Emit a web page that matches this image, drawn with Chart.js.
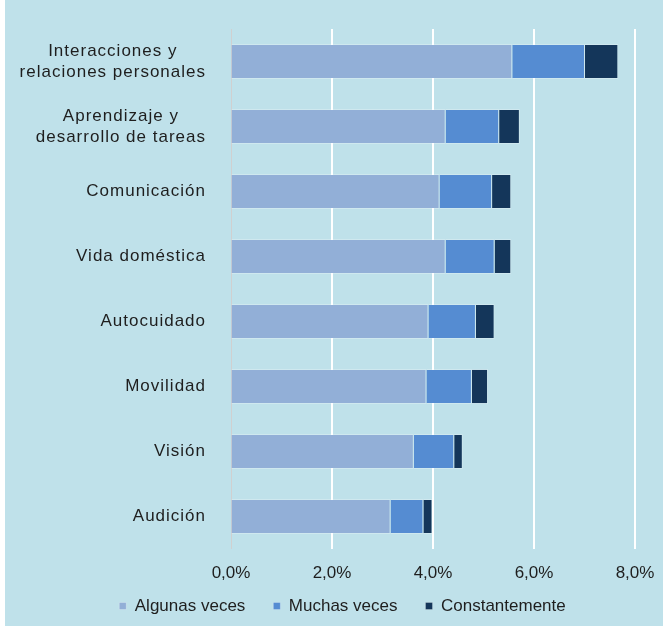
<!DOCTYPE html>
<html>
<head>
<meta charset="utf-8">
<script src="https://cdn.jsdelivr.net/npm/chart.js@4"></script>
<style>
  html, body { margin: 0; padding: 0; background: #ffffff; }
  #wrap { position: absolute; left: 5px; top: 0; width: 658px; height: 626px; background: #BFE1EA; }
</style>
</head>
<body>
<div id="wrap"><canvas id="c" width="658" height="626"></canvas></div>
<script>
const categories = [
  ['Interacciones y', 'relaciones personales'],
  ['Aprendizaje y', 'desarrollo de tareas'],
  'Comunicación',
  'Vida doméstica',
  'Autocuidado',
  'Movilidad',
  'Visión',
  'Audición'
];
const algunasVeces   = [5.57, 4.25, 4.13, 4.25, 3.91, 3.87, 3.62, 3.16];
const muchasVeces    = [1.44, 1.06, 1.04, 0.97, 0.94, 0.90, 0.80, 0.65];
const constantemente = [0.66, 0.41, 0.38, 0.33, 0.37, 0.32, 0.17, 0.18];
const seriesNames = ['Algunas veces', 'Muchas veces', 'Constantemente'];
const xTicks = [0, 2, 4, 6, 8];

const FONT = '"Liberation Sans", Arial, sans-serif';
const TEXT = '#1e1e1e';

const tweakPlugin = {
  id: 'tweaks',
  beforeLayout(chart) {
    const lg = chart.legend;
    if (lg && !lg._fitWrapped) {
      const f = lg.fit;
      lg.fit = function () { f.call(this); this.height = 43; };
      const d = lg.draw;
      lg.draw = function () {
        const b = this.bottom;
        this.bottom = this.chart.height;
        d.call(this);
        this.bottom = b;
      };
      lg._fitWrapped = true;
    }
  },
  afterLayout(chart) {
    const lg = chart.legend;
    if (lg) { lg.left += 20; lg.right += 20; lg.top -= 13.5; lg.bottom -= 13.5; }
  },
  beforeDraw(chart) {
    const s = chart.scales.y;
    if (!s._lsWrapped) {
      const orig = s.drawLabels;
      s.drawLabels = function (area) {
        const ctx = this.ctx;
        ctx.save();
        ctx.letterSpacing = '1px';
        orig.call(this, area);
        ctx.restore();
      };
      s._lsWrapped = true;
    }
    const items = s.getLabelItems();
    const ctx = chart.ctx;
    items.forEach(it => {
      if (Array.isArray(it.label) && !it._adj) {
        ctx.save();
        ctx.font = it.font.string;
        ctx.letterSpacing = '1px';
        const w = Math.max(...it.label.map(t => ctx.measureText(t).width));
        ctx.restore();
        it.options.textAlign = 'center';
        it.options.translation = [it.options.translation[0] - w / 2, it.options.translation[1]];
        it._adj = true;
      }
    });
  }
};

new Chart(document.getElementById('c'), {
  type: 'bar',
  data: {
    labels: categories,
    datasets: [
      { label: seriesNames[0], data: algunasVeces, backgroundColor: '#92AFD7', borderColor: 'rgba(255,255,255,0.25)', borderWidth: 1 },
      { label: seriesNames[1], data: muchasVeces, backgroundColor: '#558CD2', borderColor: 'rgba(255,255,255,0.25)', borderWidth: 1 },
      { label: seriesNames[2], data: constantemente, backgroundColor: '#14365A', borderColor: 'rgba(255,255,255,0.25)', borderWidth: 1 }
    ]
  },
  options: {
    indexAxis: 'y',
    responsive: false,
    animation: false,
    layout: { padding: { left: 5, right: 28, top: 29, bottom: 0 } },
    datasets: { bar: { categoryPercentage: 1, barPercentage: 0.54 } },
    scales: {
      x: {
        stacked: true,
        min: 0, max: 8,
        afterBuildTicks: sc => { sc.ticks = xTicks.map(v => ({ value: v })); },
        afterFit: sc => { sc.height = 34; sc.paddingRight = 0; sc.paddingLeft = 0; },
        ticks: {
          padding: 14,
          color: TEXT,
          font: { family: FONT, size: 17 },
          callback: v => v.toFixed(1).replace('.', ',') + '%'
        },
        grid: {
          drawTicks: false,
          color: c => c.tick && c.tick.value === 0 ? '#d0d0d0' : '#ffffff',
          lineWidth: c => c.tick && c.tick.value === 0 ? 1 : 2
        },
        border: { display: false }
      },
      y: {
        stacked: true,
        afterFit: sc => { sc.width = 221; },
        ticks: {
          padding: 17,
          color: TEXT,
          font: { family: FONT, size: 17, lineHeight: 1.25 }
        },
        grid: { display: false },
        border: { display: false }
      }
    },
    plugins: {
      legend: {
        position: 'bottom',
        labels: {
          boxWidth: 7, boxHeight: 7, padding: 28,
          color: TEXT,
          font: { family: FONT, size: 17 }
        }
      },
      tooltip: { enabled: false },
      title: { display: false }
    }
  },
  plugins: [tweakPlugin]
});
</script>
</body>
</html>
